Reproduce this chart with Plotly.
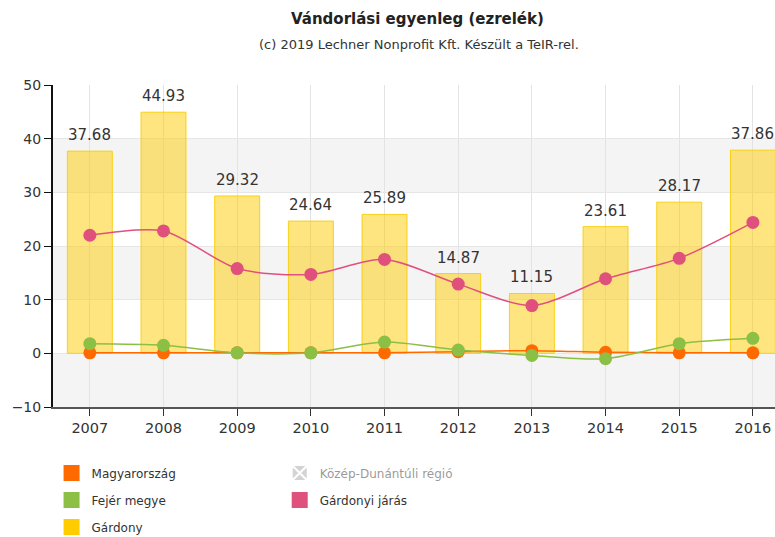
import plotly.graph_objects as go

years = ["2007", "2008", "2009", "2010", "2011", "2012", "2013", "2014", "2015", "2016"]
gardony = [37.68, 44.93, 29.32, 24.64, 25.89, 14.87, 11.15, 23.61, 28.17, 37.86]
gardonyi_jaras = [22.0, 22.8, 15.8, 14.7, 17.5, 12.9, 8.9, 13.9, 17.7, 24.4]
fejer = [1.8, 1.5, 0.1, 0.1, 2.1, 0.6, -0.4, -1.0, 1.8, 2.8]
magyarorszag = [0.1, 0.1, 0.1, 0.1, 0.1, 0.3, 0.5, 0.2, 0.1, 0.1]
y_ticks = [-10, 0, 10, 20, 30, 40, 50]
bands = [(30, 40), (10, 20), (-10, 0)]

FONT = "DejaVu Sans"
C_ORANGE = "#FF6A00"
C_GREEN = "#8CBF45"
C_YELLOW = "#FFCC00"
C_PINK = "#E0507C"
C_GRAY = "#A8A8A8"

idx = list(range(len(years)))
fig = go.Figure()

fig.add_trace(go.Bar(
    x=idx, y=gardony, width=0.61,
    marker=dict(color="rgba(255,204,0,0.5)", line=dict(color="rgba(250,205,0,0.9)", width=1)),
    showlegend=False, hoverinfo="skip",
))

def line_trace(vals, color, width=1.5):
    return go.Scatter(
        x=idx, y=vals, mode="lines+markers",
        line=dict(color=color, width=width, shape="spline", smoothing=0.8),
        marker=dict(color=color, size=13),
        showlegend=False, cliponaxis=False,
    )

fig.add_trace(line_trace(magyarorszag, C_ORANGE))
fig.add_trace(line_trace(fejer, C_GREEN))
fig.add_trace(line_trace(gardonyi_jaras, C_PINK))

# legend entries
def leg(name, color, legend, group, symbol="square", visible=True, lc=None):
    return go.Scatter(
        x=[None], y=[None], mode="markers", name=name, legend=legend, legendgroup=group,
        marker=dict(symbol=symbol, color=color, size=22,
                    line=dict(color=lc or color, width=2 if lc else 0)),
        visible=visible, showlegend=True,
    )

fig.add_trace(leg("Magyarország", C_ORANGE, "legend", "a"))
fig.add_trace(leg("Fejér megye", C_GREEN, "legend", "b"))
fig.add_trace(leg("Gárdony", C_YELLOW, "legend", "c"))
fig.add_trace(leg("Közép-Dunántúli régió", C_GRAY, "legend2", "d", symbol="square-x",
                  visible="legendonly", lc="white"))
fig.add_trace(leg("Gárdonyi járás", C_PINK, "legend2", "e"))

shapes = []
for lo, hi in bands:
    shapes.append(dict(type="rect", xref="paper", yref="y", x0=0, x1=1, y0=lo, y1=hi,
                       fillcolor="#F4F4F4", line=dict(width=0), layer="below"))

annotations = [
    dict(text="<b>Vándorlási egyenleg (ezrelék)</b>", xref="paper", yref="paper",
         x=0.505, y=1, yshift=66, xanchor="center", yanchor="middle", showarrow=False,
         font=dict(family=FONT, size=15, color="#222222")),
    dict(text="(c) 2019 Lechner Nonprofit Kft. Készült a TeIR-rel.", xref="paper", yref="paper",
         x=0.507, y=1, yshift=41, xanchor="center", yanchor="middle", showarrow=False,
         font=dict(family=FONT, size=13, color="#333333")),
]
for i, v in zip(idx, gardony):
    annotations.append(dict(
        text=f"{v:.2f}", x=i, y=v, xref="x", yref="y", showarrow=False,
        xanchor="center", yanchor="bottom", yshift=5,
        font=dict(family=FONT, size=15, color="#333333"),
    ))

legend_common = dict(
    orientation="v", yanchor="top", xanchor="left",
    font=dict(family=FONT, size=12, color="#333333"),
    tracegroupgap=8, itemsizing="trace", bgcolor="rgba(0,0,0,0)",
    traceorder="grouped",
)

fig.update_layout(
    width=775, height=537,
    margin=dict(l=53, r=0, t=85, b=130, autoexpand=False),
    plot_bgcolor="white", paper_bgcolor="white",
    shapes=shapes,
    bargap=0.39,
    legend=dict(x=-0.002, y=-0.16, **legend_common),
    legend2=dict(x=0.314, y=-0.16, **legend_common),
    annotations=annotations,
)

fig.update_xaxes(
    range=[-0.5, 9.3], tickmode="array", tickvals=idx, ticktext=years,
    showgrid=True, gridcolor="#E3E3E3", gridwidth=1,
    showline=True, linecolor="#555555", linewidth=2,
    ticks="outside", ticklen=7, tickcolor="#333333", automargin=False,
    tickfont=dict(family=FONT, size=14.5, color="#333333"), zeroline=False,
)
fig.update_yaxes(
    range=[-10, 50], tickmode="array", tickvals=y_ticks,
    showgrid=True, gridcolor="#E6E6E6", gridwidth=1,
    showline=True, linecolor="#111111", linewidth=2,
    ticks="outside", ticklen=7, tickcolor="#111111", automargin=False,
    tickfont=dict(family=FONT, size=14, color="#333333"), zeroline=False,
)

fig.write_html("out.html", config={"displayModeBar": False},
               post_script="document.body.style.margin='0';document.body.style.overflow='hidden';")
